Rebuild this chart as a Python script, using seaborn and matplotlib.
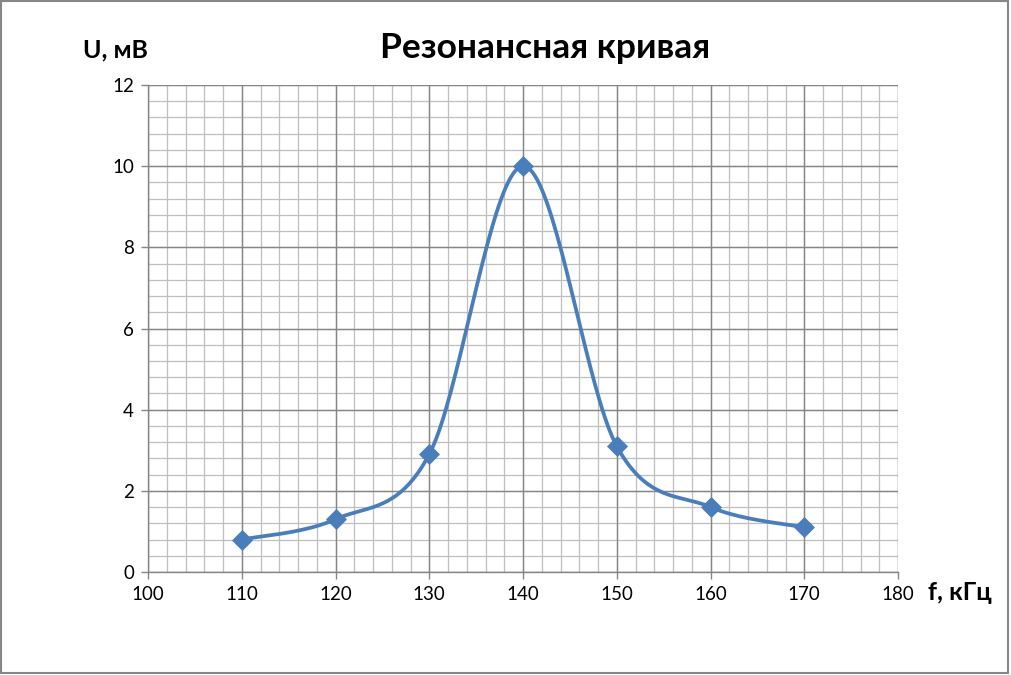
import numpy as np
import pandas as pd
import matplotlib
matplotlib.use("Agg")
import matplotlib.pyplot as plt
import seaborn as sns
from matplotlib.patches import Rectangle

sns.set_theme(style="white")
plt.rcParams['font.family'] = ['Lato', 'DejaVu Sans']

# Resonance curve data
freq = [110, 120, 130, 140, 150, 160, 170]      # f, kHz
volt = [0.8, 1.3, 2.9, 10.0, 3.1, 1.6, 1.1]     # U, mV

x_ticks = [100, 110, 120, 130, 140, 150, 160, 170, 180]
y_ticks = [0, 2, 4, 6, 8, 10, 12]

LINE_COLOR = '#4A7EBB'


def excel_smooth(xs, ys, n=40):
    """Bezier smoothing similar to Excel's smoothed line"""
    pts = np.column_stack([xs, ys]).astype(float)
    out = []
    for i in range(len(pts) - 1):
        p0 = pts[max(i - 1, 0)]
        p1 = pts[i]
        p2 = pts[i + 1]
        p3 = pts[min(i + 2, len(pts) - 1)]
        c1 = p1 + (p2 - p0) / 6.0
        c2 = p2 - (p3 - p1) / 6.0
        t = np.linspace(0, 1, n)[:, None]
        seg = ((1 - t) ** 3) * p1 + 3 * ((1 - t) ** 2) * t * c1 + 3 * (1 - t) * t ** 2 * c2 + t ** 3 * p2
        out.append(seg if i == 0 else seg[1:])
    return np.vstack(out)


curve = excel_smooth(freq, volt)
df_curve = pd.DataFrame({'f': curve[:, 0], 'U': curve[:, 1]})
df_pts = pd.DataFrame({'f': freq, 'U': volt})

fig = plt.figure(figsize=(10.11, 6.75), dpi=100)
ax = fig.add_axes([148 / 1011, 1 - 572 / 675, 750 / 1011, 487 / 675])

# grid: minor first, then major
for xv in np.arange(100, 180.1, 2):
    ax.axvline(xv, color='#BFBFBF', lw=0.9, zorder=0)
for yv in np.arange(0, 12.01, 0.4):
    ax.axhline(yv, color='#BFBFBF', lw=0.9, zorder=0)
for xv in x_ticks:
    ax.axvline(xv, color='#868686', lw=1.0, zorder=0.5)
for yv in y_ticks:
    ax.axhline(yv, color='#868686', lw=1.0, zorder=0.5)

sns.lineplot(data=df_curve, x='f', y='U', ax=ax, color=LINE_COLOR, lw=2.7,
             sort=False, estimator=None, zorder=3)
sns.scatterplot(data=df_pts, x='f', y='U', ax=ax, marker='D', s=115,
                color=LINE_COLOR, edgecolor=LINE_COLOR, linewidth=0, zorder=4)

ax.set_xlim(100, 180)
ax.set_ylim(0, 12)
ax.set_xticks(x_ticks)
ax.set_yticks(y_ticks)
ax.tick_params(axis='both', labelsize=13.5, colors='#868686', labelcolor='black',
               length=5, width=1, direction='out', bottom=True, left=True, pad=5)
ax.set_xlabel('')
ax.set_ylabel('')
for side in ['top', 'right']:
    ax.spines[side].set_visible(False)
for side in ['left', 'bottom']:
    ax.spines[side].set_color('#868686')
    ax.spines[side].set_linewidth(1.0)

fig.text(545 / 1011, 1 - 48 / 675, 'Резонансная кривая', ha='center', va='center',
         fontsize=25.5, fontweight='bold', color='black')
fig.text(115 / 1011, 1 - 50 / 675, 'U, мВ', ha='center', va='center',
         fontsize=18, fontweight='bold', color='black')
fig.text(960 / 1011, 1 - 592 / 675, 'f, кГц', ha='center', va='center',
         fontsize=18, fontweight='bold', color='black')

# chart area border
fig.patches.append(Rectangle((0.001, 0.003), 0.996, 0.995, transform=fig.transFigure,
                             fill=False, edgecolor='#868686', lw=1.5))

fig.savefig('out.png', dpi=100, facecolor='white')
